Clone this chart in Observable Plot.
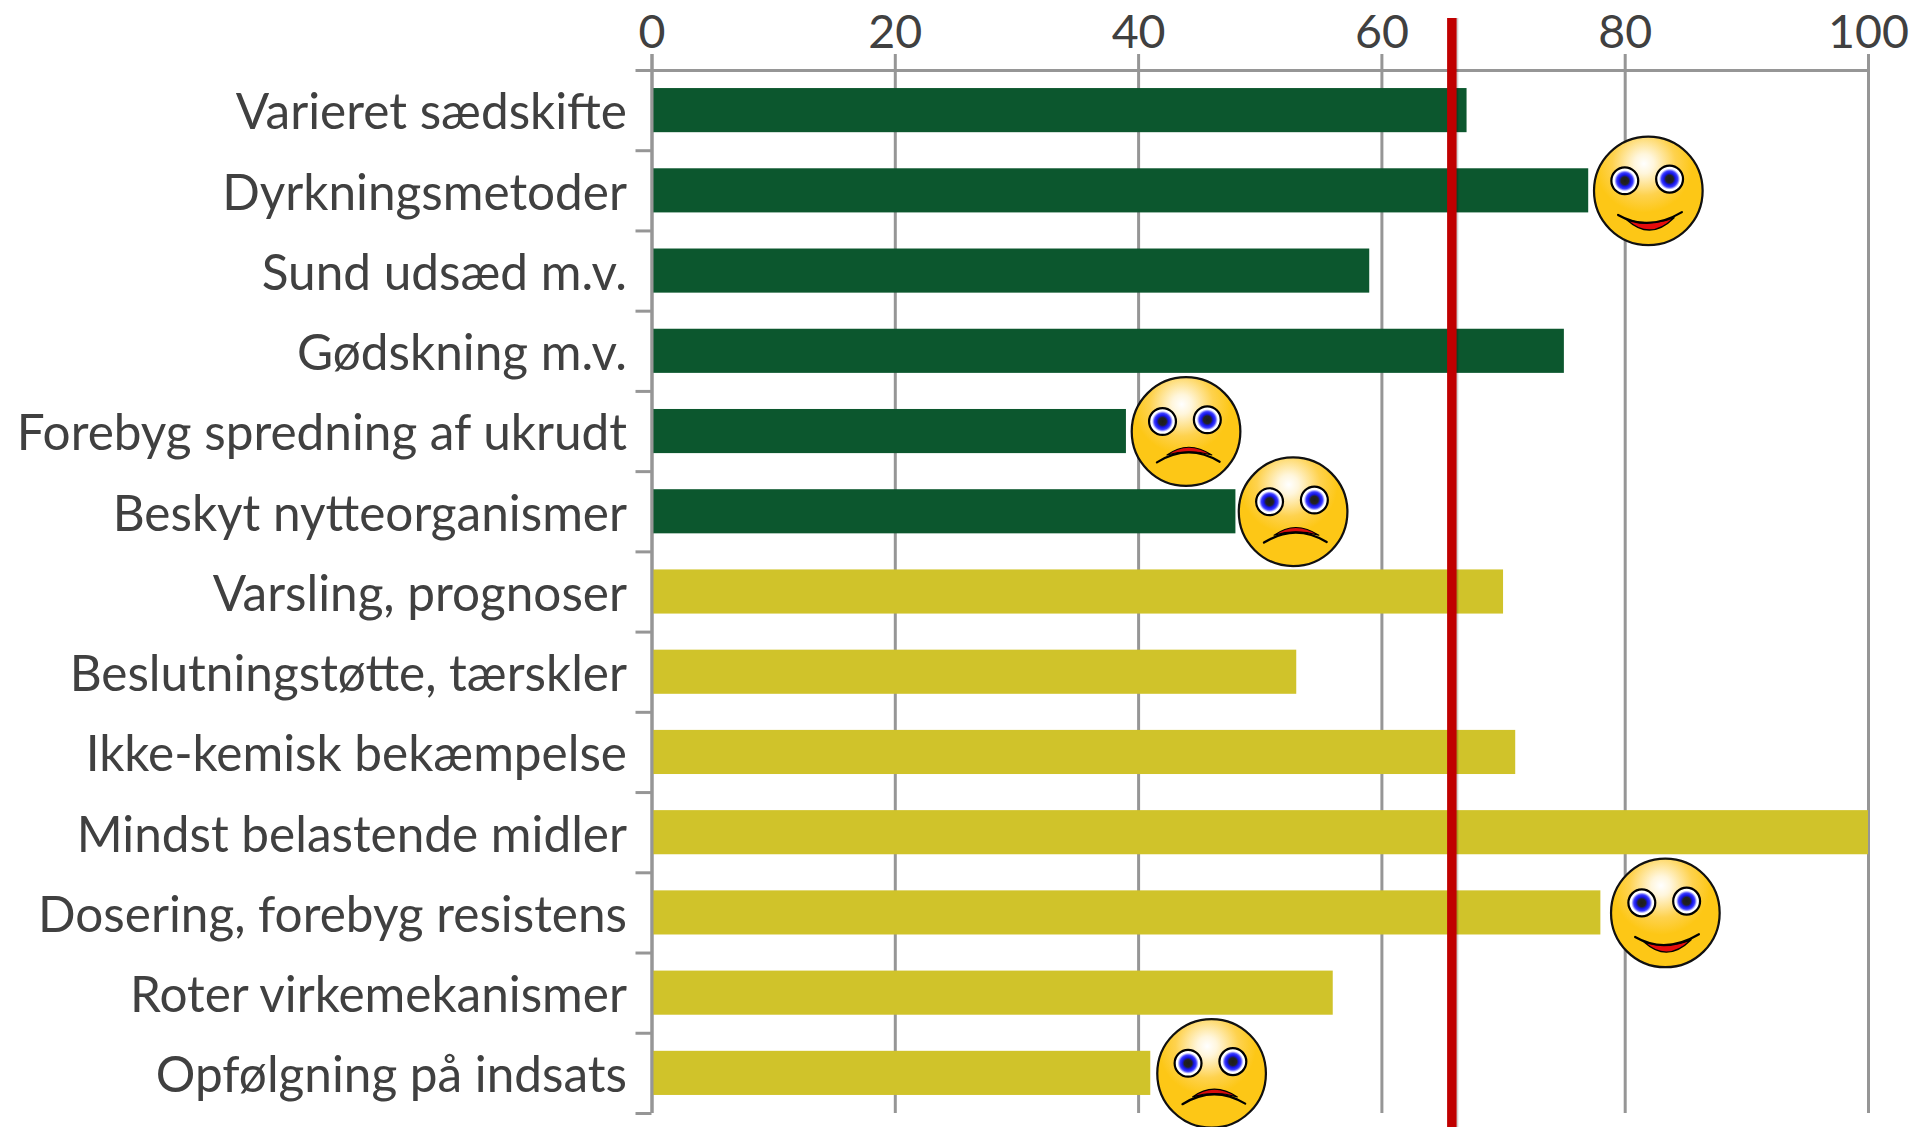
<!DOCTYPE html>
<html><head><meta charset="utf-8">
<script src="https://cdn.jsdelivr.net/npm/d3@7"></script>
<script src="https://cdn.jsdelivr.net/npm/@observablehq/plot@0.6"></script>
<style>html,body{margin:0;padding:0;background:#fff;overflow:hidden}svg{display:block}</style>
</head><body><div id="chart"></div>
<script>
const categories = ["Varieret sædskifte","Dyrkningsmetoder","Sund udsæd m.v.","Gødskning m.v.","Forebyg spredning af ukrudt","Beskyt nytteorganismer","Varsling, prognoser","Beslutningstøtte, tærskler","Ikke-kemisk bekæmpelse","Mindst belastende midler","Dosering, forebyg resistens","Roter virkemekanismer","Opfølgning på indsats"];
const values = [67,77,59,75,39,48,70,53,71,100,78,56,41];
const groups = ["a","a","a","a","a","a","b","b","b","b","b","b","b"];
const xTicks = [0,20,40,60,80,100];
const threshold = 65.75;
const smileyCats = ["Dyrkningsmetoder","Forebyg spredning af ukrudt","Beskyt nytteorganismer","Dosering, forebyg resistens","Opfølgning på indsats"];
const smileyX = [81.9,43.9,52.7,83.3,46];
const smileyMood = ["happy","sad","sad","happy","sad"];

function face(mood){
  const mouth = mood==="happy"
    ? `<path d="M31 76Q52 95 73 74Q52 82 31 76Z" fill="#e60c0c" stroke="#000" stroke-width="1.2" stroke-linejoin="round"/><path d="M23 71.5Q50 87 80 69" fill="none" stroke="#000" stroke-width="2" stroke-linecap="round"/>`
    : `<path d="M33 71Q52 57 73 71Q52 65 33 71Z" fill="#d80c0c" stroke="#000" stroke-width="1" stroke-linejoin="round"/><path d="M24 77.5Q52 60 80 77" fill="none" stroke="#000" stroke-width="2" stroke-linecap="round"/>`;
  const eye = (cx,cy)=>`<circle cx="${cx}" cy="${cy}" r="12" fill="url(#w)" stroke="#000" stroke-width="2"/>`;
  const s = `<svg xmlns="http://www.w3.org/2000/svg" viewBox="0 0 100 100" width="112" height="112"><defs><radialGradient id="g" cx=".46" cy=".25" r=".45"><stop offset="0" stop-color="#ffffff"/><stop offset=".2" stop-color="#fff6dc"/><stop offset=".65" stop-color="#fed24e"/><stop offset="1" stop-color="#fdc716"/></radialGradient><radialGradient id="w"><stop offset="0" stop-color="#1c1c1c"/><stop offset=".28" stop-color="#222"/><stop offset=".44" stop-color="#1414e8"/><stop offset=".6" stop-color="#3a3aff"/><stop offset=".78" stop-color="#fff"/><stop offset="1" stop-color="#fff"/></radialGradient></defs><circle cx="50" cy="50" r="48.5" fill="url(#g)" stroke="#111" stroke-width="2"/>${eye(29,41)}${eye(69,39.5)}${mouth}</svg>`;
  return "data:image/svg+xml;base64,"+btoa(s);
}

const rows = categories.map((c,i)=>({c,v:values[i],g:groups[i]}));
const smileys = smileyCats.map((c,i)=>({c,x:smileyX[i],mood:smileyMood[i]}));
const FONT = "Lato, 'Open Sans', sans-serif";
const GREY = "#969696";

const plot = Plot.plot({
  width:1915, height:1127,
  marginLeft:651.5, marginRight:47, marginTop:70, marginBottom:14,
  style:{background:"#fff",fontFamily:FONT,overflow:"visible"},
  x:{domain:[0,100],label:null},
  y:{domain:categories,padding:0.45,paddingOuter:0.225,align:0.5,round:false,label:null},
  color:{domain:["a","b"],range:["#0c572e","#d0c32a"]},
  marks:[
    Plot.ruleX(xTicks,{x:d=>d,stroke:GREY,strokeWidth:3,insetTop:-16}),
    Plot.barX(rows,{x:"v",y:"c",fill:"g"}),
    Plot.ruleY([categories[0]],{y:d=>d,x1:0,x2:100,stroke:GREY,strokeWidth:3,dy:-40.1}),
    Plot.ruleX([0],{x:d=>d,stroke:GREY,strokeWidth:3,insetTop:-16}),
    Plot.axisX({anchor:"top",ticks:xTicks,tickSize:0,tickPadding:23,fontSize:46.5,fill:"#404040",label:null,tickFormat:d=>d}),
    Plot.axisY({ticks:categories,tickSize:0,tickPadding:25,fontSize:49.5,fill:"#404040",label:null,tickFormat:d=>d,lineWidth:100,dy:3}),
    Plot.axisY({ticks:categories,tickSize:16,text:null,stroke:GREY,strokeWidth:3,label:null,dy:40.1}),
    Plot.axisY({ticks:[categories[0]],tickSize:16,text:null,stroke:GREY,strokeWidth:3,label:null,dy:-40.1}),
    Plot.ruleX([threshold],{x:d=>d,stroke:"#000",strokeOpacity:0.18,strokeWidth:10,dx:1.5,insetTop:-52,insetBottom:-14}),
    Plot.ruleX([threshold],{x:d=>d,stroke:"#c00000",strokeWidth:9.5,insetTop:-52,insetBottom:-14}),
    Plot.image(smileys,{x:"x",y:"c",src:d=>face(d.mood),width:112,height:112})
  ]
});
document.getElementById("chart").append(plot);
</script></body></html>
